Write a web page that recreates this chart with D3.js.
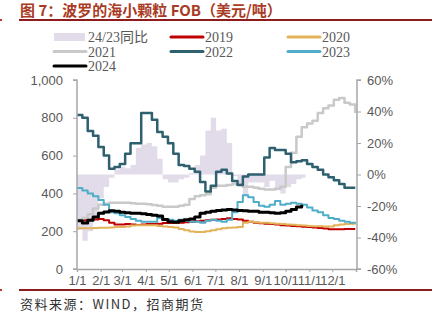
<!DOCTYPE html>
<html><head><meta charset="utf-8">
<script src="https://cdn.jsdelivr.net/npm/d3@7"></script>
<style>body{margin:0;background:#fff;} svg{display:block;}</style>
</head><body>
<svg id="c" width="443" height="324"></svg>
<script>
// ---- data (weekly values, week index i => day-of-year i*7) ----
const monthTicks = [0,31,59,90,120,151,181,212,243,273,304,334];
const monthLabels = ["1/1","2/1","3/1","4/1","5/1","6/1","7/1","8/1","9/1","10/1","11/1","12/1"];
const leftTicks = [0,200,400,600,800,1000];
const rightTicks = [-60,-40,-20,0,20,40,60];

const s2019 = [258,258,260,262,265,258,245,235,235,238,235,233,235,238,238,240,243,243,245,245,248,250,252,255,258,260,262,265,268,265,262,255,250,245,242,240,238,235,232,230,228,226,224,222,220,217,214,210,210,210,212,212,212];
const s2020 = [215,215,215,217,218,218,220,222,222,225,230,232,232,232,232,228,225,222,220,212,205,198,196,196,200,205,210,215,218,220,222,245,250,248,245,245,242,240,238,236,234,232,230,228,226,226,225,225,232,236,238,240,243];
const s2021 = [260,270,290,320,340,345,350,350,350,350,348,345,345,342,338,335,330,330,330,335,340,370,385,390,395,430,440,440,445,450,450,435,435,430,425,420,420,425,435,540,615,700,750,770,785,825,850,865,895,905,880,870,825];
const s2022 = [815,800,730,705,645,600,530,540,555,610,665,665,825,825,790,725,700,665,610,550,545,530,515,460,410,440,515,525,505,465,445,490,500,500,500,590,640,630,630,610,565,570,575,555,540,525,500,485,470,450,430,430,430];
const s2023 = [428,415,400,385,365,340,300,295,285,275,265,255,250,250,250,270,260,260,255,260,255,250,250,245,255,260,255,250,260,300,355,390,380,355,335,330,340,360,340,345,350,345,340,325,310,300,285,270,265,255,250,245,243];
const s2024 = [255,243,258,275,295,302,308,305,300,298,295,295,292,288,285,280,262,250,248,255,260,265,275,295,300,305,310,312,315,312,310,308,305,305,300,300,298,295,298,305,315,328,340];
const yoy = [-35,-42,-36,-27,-15,-8,-2,3,5,4,6,17,19,20,18,10,-3,-5,-5,-3,-2,1,6,12,28,36,28,29,20,-1,-7,-13,-5,-5,-5,-8,-4,-10,-12,-8,-6,-3,-2];

const series = [
  {name:"2019", values:s2019, color:"#c00000", w:2},
  {name:"2020", values:s2020, color:"#e3b35a", w:2},
  {name:"2021", values:s2021, color:"#c9c9c9", w:2.5},
  {name:"2022", values:s2022, color:"#2e6070", w:2.5},
  {name:"2023", values:s2023, color:"#4fadc7", w:2},
  {name:"2024", values:s2024, color:"#000000", w:3}
];

const svg = d3.select("#c");
const L = 77, R = 356, T = 80, B = 269;
const x = d3.scaleLinear().domain([0,365]).range([L,R]);
const y = d3.scaleLinear().domain([0,1000]).range([B,T]);
const y2 = d3.scaleLinear().domain([-60,60]).range([B,T]);
const gray = "#a6a6a6", txt = "#595959";

// title
svg.append("text").attr("x",20).attr("y",16).attr("fill","#a93b25")
  .attr("font-family","'Noto Sans CJK SC', sans-serif").attr("font-weight","bold").attr("font-size",15)
  .text("图 7：波罗的海小颗粒 FOB（美元/吨）");
svg.append("rect").attr("x",19).attr("y",19).attr("width",413).attr("height",2).attr("fill","#8e1c1c");
svg.append("rect").attr("x",19).attr("y",289).attr("width",413).attr("height",2).attr("fill","#8e1c1c");
svg.append("rect").attr("x",0).attr("y",19).attr("width",2).attr("height",2).attr("fill","#c0392b");
svg.append("rect").attr("x",0).attr("y",289).attr("width",2).attr("height",2).attr("fill","#c0392b");
svg.append("text").attr("x",20).attr("y",309).attr("fill","#333")
  .attr("font-family","'Noto Sans CJK SC', sans-serif").attr("font-size",13).attr("letter-spacing",1.5)
  .text("资料来源：WIND，招商期货");

// yoy area (step)
const yoyPts = yoy.map((v,i)=>[i*7,v]);
yoyPts.push([yoy.length*7 - 2, yoy[yoy.length-1]]);
const area = d3.area().curve(d3.curveStepAfter).x(d=>x(d[0])).y0(y2(0)).y1(d=>y2(d[1]));
svg.append("path").attr("d",area(yoyPts)).attr("fill","#e2dbea");

// lines
const line = d3.line().curve(d3.curveStepAfter).x(d=>x(d[0])).y(d=>y(d[1]));
series.forEach(s=>{
  const pts = s.values.map((v,i)=>[Math.min(i*7,364),v]);
  svg.append("path").attr("d",line(pts)).attr("fill","none")
    .attr("stroke",s.color).attr("stroke-width",s.w).attr("stroke-linejoin","round");
});

// axes
const axL = svg.append("g").attr("transform",`translate(${L},0)`)
  .call(d3.axisLeft(y).tickValues(leftTicks).tickSize(4).tickPadding(10).tickFormat(d3.format(",")));
const axR = svg.append("g").attr("transform",`translate(${R+1},0)`)
  .call(d3.axisRight(y2).tickValues(rightTicks).tickSize(4).tickPadding(6).tickFormat(d=>d+"%"));
const axB = svg.append("g").attr("transform",`translate(0,${B})`)
  .call(d3.axisBottom(x).tickValues(monthTicks.concat([365])).tickSize(3).tickPadding(4)
    .tickFormat((d,i)=> i<monthLabels.length ? monthLabels[i] : ""));
[axL,axR,axB].forEach(a=>{
  a.selectAll("path").attr("stroke",gray).attr("stroke-width",1.5);
  a.selectAll("line").attr("stroke",gray).attr("stroke-width",1);
  a.selectAll("text").attr("fill",txt).attr("font-family","'Liberation Sans', Arial, sans-serif").attr("font-size",13);
});
axL.select(".domain").attr("d",`M-4,${T}H0V${B}H-4`);
axR.select(".domain").attr("d",`M4,${T}H0V${B}H4`);

// legend
const legend = [
  {name:"24/23同比", type:"rect", color:"#e2dbea", c:0, r:0},
  {name:"2019", color:"#c00000", c:1, r:0},
  {name:"2020", color:"#e3b35a", c:2, r:0},
  {name:"2021", color:"#c9c9c9", c:0, r:1},
  {name:"2022", color:"#2e6070", c:1, r:1},
  {name:"2023", color:"#4fadc7", c:2, r:1},
  {name:"2024", color:"#000000", c:0, r:2}
];
const colX = [54,171,288], rowY = [37,51.5,66];
legend.forEach(l=>{
  const gx = colX[l.c], gy = rowY[l.r];
  if(l.type==="rect") svg.append("rect").attr("x",gx).attr("y",gy-4).attr("width",31).attr("height",8).attr("fill",l.color);
  else svg.append("line").attr("x1",gx).attr("x2",gx+32).attr("y1",gy).attr("y2",gy)
    .attr("stroke",l.color).attr("stroke-width",3).attr("stroke-linecap","round");
  svg.append("text").attr("x",gx+34).attr("y",gy+5).attr("fill",txt)
    .attr("font-family","'Liberation Serif', 'Noto Sans CJK SC', serif").attr("font-size",14).text(l.name);
});
</script>
</body></html>
